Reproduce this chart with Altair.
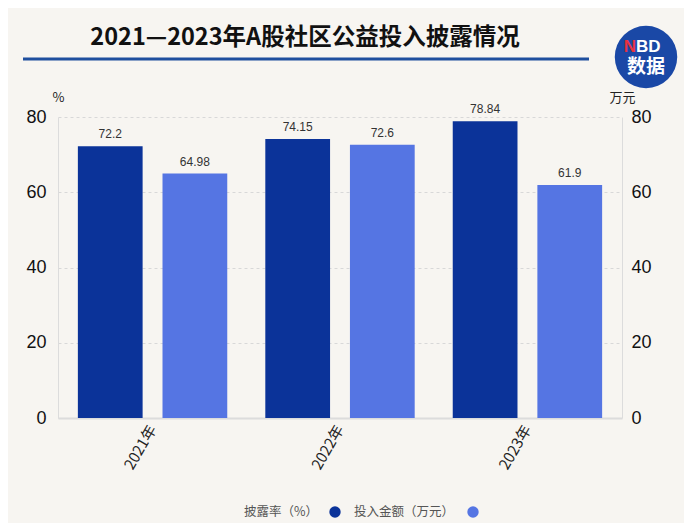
import altair as alt
import pandas as pd

years = ["2021年", "2022年", "2023年"]
series = ["披露率（%）", "投入金额（万元）"]
rate = [72.2, 74.15, 78.84]
amount = [64.98, 72.6, 61.9]
colors = ["#0b3399", "#5575e3"]
y_ticks = [0, 20, 40, 60, 80]
title_text = "2021—2023年A股社区公益投入披露情况"

rows = []
for i, yr in enumerate(years):
    rows.append({"year": yr, "series": series[0], "value": rate[i], "label": f"{rate[i]:g}"})
    rows.append({"year": yr, "series": series[1], "value": amount[i], "label": f"{amount[i]:g}"})
df = pd.DataFrame(rows)
one = pd.DataFrame({"k": [0]})

CJK = "Noto Sans CJK SC"
NUM = "Liberation Sans"

x_enc = alt.X("year:N", sort=years,
              scale=alt.Scale(paddingInner=0.203, paddingOuter=0.106),
              axis=alt.Axis(title=None, labelAngle=300, labelFontSize=15, labelFont=CJK,
                            labelColor="#222", labelPadding=8, ticks=False,
                            domainColor="#dcdcdc", domainWidth=2))
xo_enc = alt.XOffset("series:N", sort=series,
                     scale=alt.Scale(paddingInner=0.235, paddingOuter=0))
y_scale = alt.Scale(domain=[0, 80])

bars = alt.Chart(df).mark_bar().encode(
    x=x_enc, xOffset=xo_enc,
    y=alt.Y("value:Q", scale=y_scale,
            axis=alt.Axis(values=y_ticks, title="%", titleAngle=0, titleX=0, titleY=-20,
                          titleAlign="center", titleBaseline="middle", titleFont=CJK,
                          titleFontSize=13, titleFontWeight="normal", titleColor="#222",
                          labelFontSize=18, labelFont=NUM, labelColor="#111", labelPadding=12,
                          ticks=False, domainColor="#dcdcdc", grid=True,
                          gridDash=[3, 3], gridColor="#d8d8d8")),
    color=alt.Color("series:N", sort=series, scale=alt.Scale(domain=series, range=colors), legend=None),
)
labels = alt.Chart(df).mark_text(baseline="bottom", dy=-5, fontSize=12, font=NUM, color="#333").encode(
    x=x_enc, xOffset=xo_enc,
    y=alt.Y("value:Q", scale=y_scale),
    text="label:N",
)
main = alt.layer(bars, labels)

right = alt.Chart(df).mark_bar(opacity=0).encode(
    x=x_enc, xOffset=xo_enc,
    y=alt.Y("value:Q", scale=y_scale,
            axis=alt.Axis(orient="right", values=y_ticks, title="万元", titleAngle=0,
                          titleX=0, titleY=-20, titleAlign="center", titleBaseline="middle",
                          titleFont=CJK, titleFontSize=13, titleFontWeight="normal",
                          titleColor="#222", labelFontSize=18, labelFont=NUM,
                          labelColor="#111", labelPadding=9, ticks=False,
                          domainColor="#dcdcdc", grid=False)),
)

deco = []
deco.append(alt.Chart(one).mark_text(text=title_text, font=CJK, fontSize=23.5, fontWeight="bold",
                                     color="#111", align="center", baseline="middle").encode(
    x=alt.value(247), y=alt.value(-79)))
deco.append(alt.Chart(one).mark_rule(color="#1f4f9e", strokeWidth=3).encode(
    x=alt.value(-35), x2=alt.value(531), y=alt.value(-58)))
deco.append(alt.Chart(one).mark_point(shape="circle", filled=True, size=3900, color="#1a48a6", opacity=1).encode(
    x=alt.value(588), y=alt.value(-60)))
deco.append(alt.Chart(one).mark_text(text="N", font=NUM, fontSize=17, fontWeight="bold",
                                     color="#e8323f", align="right", baseline="middle").encode(
    x=alt.value(578), y=alt.value(-70)))
deco.append(alt.Chart(one).mark_text(text="BD", font=NUM, fontSize=17, fontWeight="bold",
                                     color="#ffffff", align="left", baseline="middle").encode(
    x=alt.value(578), y=alt.value(-70)))
deco.append(alt.Chart(one).mark_text(text="数据", font=CJK, fontSize=19, fontWeight="bold",
                                     color="#ffffff", align="center", baseline="middle").encode(
    x=alt.value(588), y=alt.value(-50)))
# legend
deco.append(alt.Chart(one).mark_text(text=series[0], font=CJK, fontSize=12.5, color="#555",
                                     align="right", baseline="middle").encode(
    x=alt.value(260), y=alt.value(395)))
deco.append(alt.Chart(one).mark_point(shape="circle", filled=True, size=130, color=colors[0], opacity=1).encode(
    x=alt.value(277), y=alt.value(395)))
deco.append(alt.Chart(one).mark_text(text=series[1], font=CJK, fontSize=12.5, color="#555",
                                     align="right", baseline="middle").encode(
    x=alt.value(396), y=alt.value(395)))
deco.append(alt.Chart(one).mark_point(shape="circle", filled=True, size=130, color=colors[1], opacity=1).encode(
    x=alt.value(415), y=alt.value(395)))

chart = alt.layer(main, right, *deco).resolve_scale(y="independent").properties(
    width=564, height=301,
    autosize=alt.AutoSizeParams(type="none"),
    padding={"left": 50, "top": 109, "right": 62, "bottom": 105},
    background="#f7f5f1",
).configure_view(stroke=None)

chart.save("out.html", embed_options={"renderer": "svg", "actions": False})
